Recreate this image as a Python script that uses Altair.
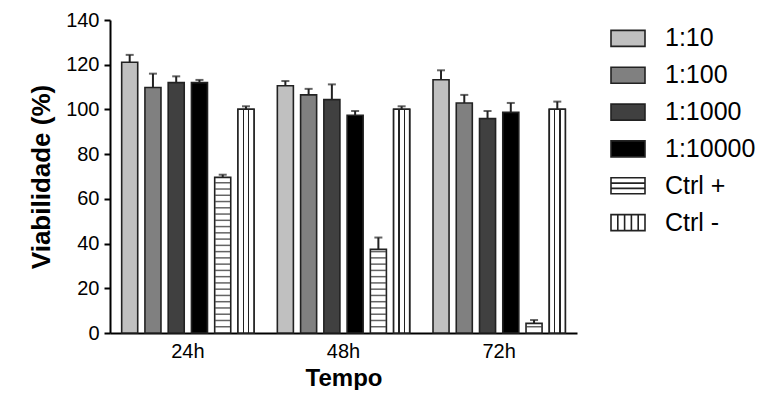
import altair as alt
import pandas as pd

# ---- data ----
tempos = ["24h", "48h", "72h"]
grupos = ["1:10", "1:100", "1:1000", "1:10000", "Ctrl +", "Ctrl -"]

v_1_10 = [121.1, 110.6, 113.3]
v_1_100 = [109.8, 106.5, 102.9]
v_1_1000 = [112.0, 104.4, 95.9]
v_1_10000 = [112.0, 97.4, 98.7]
v_ctrl_pos = [69.6, 37.4, 4.3]
v_ctrl_neg = [100.1, 100.1, 100.1]

e_1_10 = [3.3, 2.1, 4.2]
e_1_100 = [6.2, 2.7, 3.6]
e_1_1000 = [2.8, 6.8, 3.4]
e_1_10000 = [1.2, 1.9, 4.2]
e_ctrl_pos = [1.2, 5.3, 1.5]
e_ctrl_neg = [1.3, 1.3, 3.4]

y_ticks = [0, 20, 40, 60, 80, 100, 120, 140]

# ---- styles ----
fills = ["#c0c0c0", "#808080", "#404040", "#000000", "#ffffff", "#ffffff"]
INK = "#222222"
FONT = "Liberation Sans"

values = [v_1_10, v_1_100, v_1_1000, v_1_10000, v_ctrl_pos, v_ctrl_neg]
errors = [e_1_10, e_1_100, e_1_1000, e_1_10000, e_ctrl_pos, e_ctrl_neg]
rows = []
for g, vs, es in zip(grupos, values, errors):
    for t, v, e in zip(tempos, vs, es):
        rows.append({"tempo": t, "grupo": g, "value": v, "upper": v + e})
df = pd.DataFrame(rows)

x_enc = alt.X(
    "tempo:N",
    sort=tempos,
    scale=alt.Scale(domain=tempos, paddingInner=0.15, paddingOuter=0.075),
    axis=alt.Axis(
        title="Tempo", labelAngle=0, ticks=False, labelPadding=8,
        labelFontSize=20, titleFontSize=24, titleFontWeight="bold",
        titlePadding=5, domainColor="black", domainWidth=2,
        labelColor="black", titleColor="black", labelFont=FONT, titleFont=FONT,
    ),
)
xo_enc = alt.XOffset(
    "grupo:N", scale=alt.Scale(domain=grupos, paddingInner=0.31, paddingOuter=0)
)
y_enc = alt.Y(
    "value:Q",
    scale=alt.Scale(domain=[0, 140], nice=False),
    axis=alt.Axis(
        title="Viabilidade (%)", values=y_ticks, grid=False, tickSize=6,
        tickWidth=2, tickColor="black", domainColor="black", domainWidth=2,
        labelFontSize=20, titleFontSize=26, titleFontWeight="bold",
        labelPadding=5, titlePadding=11, labelColor="black", titleColor="black",
        labelFont=FONT, titleFont=FONT,
    ),
)
fill_enc = alt.Fill("grupo:N", scale=alt.Scale(domain=grupos, range=fills), legend=None)

base = alt.Chart(df)

bars = base.mark_bar(stroke=INK, strokeWidth=1.6).encode(
    x=x_enc, xOffset=xo_enc, y=y_enc, fill=fill_enc
)

# vertical stripes of "Ctrl -" drawn with a hard-stop gradient
stripe_stops = []
for a, b, c in [(0.0, 0.30, "white"), (0.30, 0.37, INK), (0.37, 0.63, "white"),
                (0.63, 0.70, INK), (0.70, 1.0, "white")]:
    stripe_stops.append(alt.GradientStop(offset=a, color=c))
    stripe_stops.append(alt.GradientStop(offset=b, color=c))
vgrad = alt.LinearGradient(gradient="linear", stops=stripe_stops, x1=0, x2=1, y1=0, y2=0)

ctrl_neg = base.transform_filter(alt.datum.grupo == "Ctrl -").mark_bar(
    fill=vgrad, stroke=INK, strokeWidth=1.6
).encode(x=x_enc, xOffset=xo_enc, y=y_enc)

# horizontal stripes of "Ctrl +"
ctrl_pos = base.transform_filter(alt.datum.grupo == "Ctrl +").transform_calculate(
    stripe="sequence(2.8, datum.value, 2.8)"
).transform_flatten(["stripe"]).mark_tick(
    orient="horizontal", size=15, thickness=1.5, color=INK
).encode(x=x_enc, xOffset=xo_enc, y=alt.Y("stripe:Q"))

err = base.mark_rule(color=INK, strokeWidth=2).encode(
    x=x_enc, xOffset=xo_enc, y="value:Q", y2="upper:Q"
)
caps = base.mark_tick(orient="horizontal", size=8, thickness=2, color=INK).encode(
    x=x_enc, xOffset=xo_enc, y="upper:Q"
)

main = alt.layer(bars, ctrl_neg, ctrl_pos, err, caps).properties(width=467, height=313)

# ---- custom legend with patterned swatches ----
rect = "M-1.7,-0.8H1.7V0.8H-1.7Z"
paths = [
    rect, rect, rect, rect,
    rect + " M-1.7,-0.267H1.7 M-1.7,0.267H1.7",
    rect + " M-1.02,-0.8V0.8 M-0.34,-0.8V0.8 M0.34,-0.8V0.8 M1.02,-0.8V0.8",
]
leg_df = pd.DataFrame({"grupo": grupos})
leg_base = alt.Chart(leg_df).encode(
    y=alt.Y("grupo:N", axis=None,
            scale=alt.Scale(domain=grupos, paddingInner=0, paddingOuter=0.03))
)
swatch = leg_base.mark_point(
    filled=True, size=400, stroke=INK, strokeWidth=1.6, opacity=1
).encode(
    x=alt.value(17),
    fill=fill_enc,
    shape=alt.Shape("grupo:N", scale=alt.Scale(domain=grupos, range=paths), legend=None),
)
labels = leg_base.mark_text(
    align="left", baseline="middle", fontSize=25, font=FONT, color="black"
).encode(x=alt.value(54), text="grupo:N")
legend = alt.layer(swatch, labels).properties(width=140, height=221)

chart = alt.hconcat(main, legend, spacing=30).properties(
    padding={"left": 20, "top": 2, "right": 0, "bottom": 0}
).configure_view(stroke=None).resolve_scale(fill="independent", shape="independent")

chart.save("out.html", embed_options={"renderer": "svg", "actions": False})
